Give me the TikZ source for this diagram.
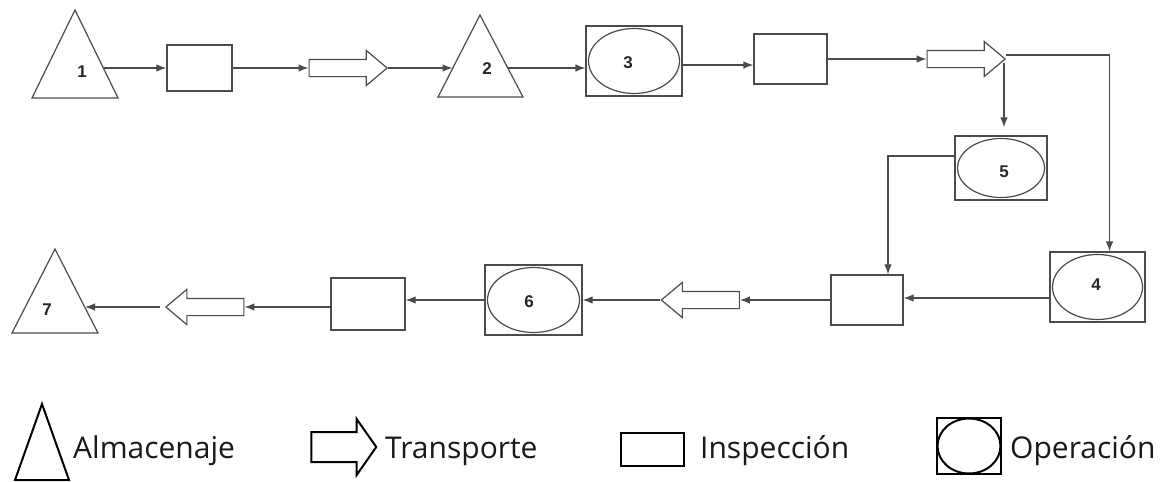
\documentclass[tikz,border=0pt]{standalone}
\usepackage{fontspec}
\setmainfont{Open Sans}
\newfontfamily\numfont{Liberation Sans}
\usetikzlibrary{shapes.arrows,arrows.meta,calc}
\definecolor{linec}{RGB}{75,75,75}
\tikzset{
  ln/.style={draw=linec, line width=1.2pt},
  arr/.style={ln, -{Latex[length=10pt,width=7.5pt]}},
  num/.style={font=\numfont\bfseries\fontsize{17}{17}\selectfont, text=black!85, inner sep=0pt},
  insp/.style 2 args={rectangle, ln, inner sep=0pt, minimum width=#1, minimum height=#2},
  oper/.style 2 args={rectangle, ln, inner sep=0pt, minimum width=#1, minimum height=#2,
     path picture={\draw[linec, line width=1.2pt] (path picture bounding box.center)
        ellipse [x radius={#1/2-2.5pt}, y radius={#2/2-2.5pt}];}},
  trans/.style={single arrow, ln, inner sep=0pt, inner ysep=8pt, minimum height=78pt,
     single arrow head extend=9pt, single arrow tip angle=80, single arrow head indent=0pt},
  transl/.style={trans, shape border rotate=180},
  leg/.style={draw=black, line width=2pt},
  legtext/.style={font=\fontsize{30}{30}\selectfont, text=black!90, anchor=base west, inner sep=0pt},
}
\begin{document}
\begin{tikzpicture}[x=1pt,y=-1pt]
\useasboundingbox (0,0) rectangle (1165,482);
% ---------- triangles (almacenaje) ----------
\draw[ln, line join=miter] (75,10) -- (118,98) -- (32,98) -- cycle;
\node[num] (n1) at (82,72) {1};
\coordinate (t1R) at (103.5,68);
\draw[ln] (480,15) -- (523,97) -- (438,97) -- cycle;
\node[num] (n2) at (487,69) {2};
\coordinate (t2L) at (452.5,68);
\coordinate (t2R) at (508,68);
\draw[ln] (55,249) -- (98,333) -- (12,333) -- cycle;
\node[num] (n7) at (47,310) {7};
\coordinate (t7R) at (85,307);
% ---------- top row ----------
\node[insp={65pt}{46pt}] (rA) at (199.5,68) {};
\node[trans] (T1) at (343,68) {};
\node[oper={96pt}{70pt}] (op3) at (634,61) {};
\node[num] (n3) at (628,63) {3};
\node[insp={73pt}{50pt}] (rB) at (790.5,59) {};
\node[trans] (T2) at (961,59) {};
\coordinate (c1) at (1006,55);
\coordinate (c2) at (1004,63);
% ---------- right column ----------
\node[oper={92pt}{64pt}] (op5) at (1001,168) {};
\node[num] (n5) at (1004,172) {5};
\node[oper={95pt}{70pt}] (op4) at (1097.5,287) {};
\node[num] (n4) at (1096,285) {4};
% ---------- bottom row ----------
\node[insp={72pt}{50pt}] (rC) at (867,300) {};
\node[transl] (T3) at (705.5,300) {};
\node[oper={97pt}{70pt}] (op6) at (533.5,300) {};
\node[num] (n6) at (529,302) {6};
\node[insp={74pt}{52pt}] (rD) at (368,304) {};
\node[transl] (T4) at (210,307) {};
% ---------- connectors ----------
\draw[arr] (t1R) -- (rA.west);
\draw[arr] (rA.east) -- (T1.tail);
\draw[arr] (T1.tip) -- (t2L);
\draw[arr] (t2R) -- (t2R -| op3.west);
\draw[arr] ([yshift=-4pt]op3.east) -- ([yshift=-4pt]op3.east -| rB.west);
\draw[arr] (rB.east) -- (T2.tail);
\draw[arr] (c1) -| ([xshift=12pt]op4.north);
\draw[arr, shorten >=8pt] (c2) -- (c2 |- op5.north);
\draw[arr] ([yshift=12pt]op5.west) -| ([xshift=21pt]rC.north);
\draw[arr] ([yshift=-11pt]op4.west) -- ([yshift=-11pt]op4.west -| rC.east);
\draw[arr] (rC.west) -- (T3.tail);
\draw[arr] (T3.tip) -- (op6.east);
\draw[arr] (op6.west) -- (op6.west -| rD.east);
\draw[arr] (T4.tail -| rD.west) -- (T4.tail);
\draw[arr] ([xshift=-5pt]T4.tip) -- (t7R);
% ---------- legend ----------
\draw[leg] (42,404) -- (69,480) -- (15,480) -- cycle;
\node[legtext] (l1) at (73,458) {Almacenaje};
\node[single arrow, leg, inner sep=0pt, inner ysep=14pt, minimum height=65pt,
      single arrow head extend=13pt, single arrow tip angle=110, single arrow head indent=0pt]
      (lT) at (338.5,447) {};
\node[legtext] (l2) at (385,458) {Transporte};
\node[rectangle, leg, inner sep=0pt, minimum width=63pt, minimum height=33pt] (lR) at (652.5,449.5) {};
\node[legtext] (l3) at (700,458) {Inspección};
\node[rectangle, leg, inner sep=0pt, minimum width=64pt, minimum height=56pt,
      path picture={\draw[black, line width=2pt] (path picture bounding box.center)
        ellipse [x radius=31.5pt, y radius=27.5pt];}] (lO) at (969,446) {};
\node[legtext] (l4) at (1010,458) {Operación};
\end{tikzpicture}
\end{document}
